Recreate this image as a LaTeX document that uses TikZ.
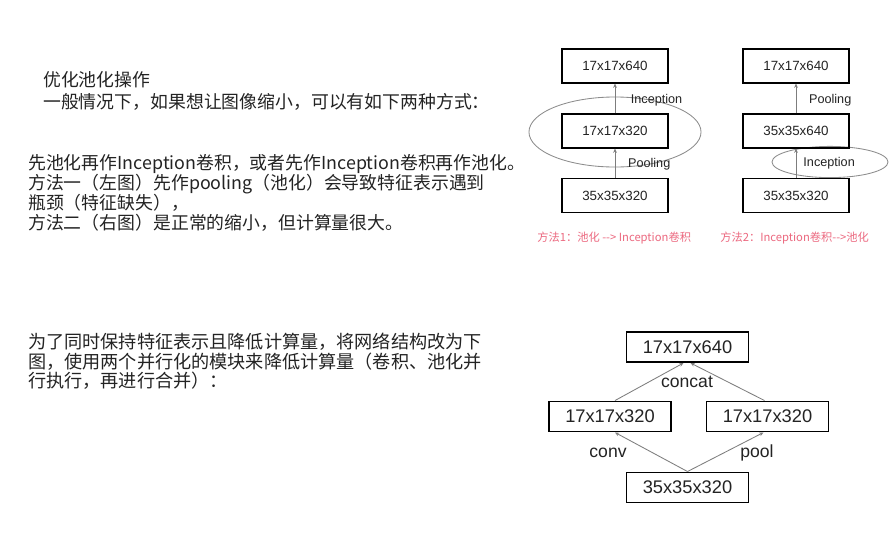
\documentclass[tikz,border=0pt]{standalone}
\usepackage{fontspec}
\setmainfont{Liberation Sans}
\newfontfamily\cjk{Noto Sans CJK SC}
\usetikzlibrary{arrows.meta,calc}

\definecolor{linegray}{RGB}{125,125,125}
\definecolor{ringgray}{RGB}{140,140,140}
\definecolor{notepink}{RGB}{236,105,128}
\definecolor{textgray}{RGB}{35,35,35}

\tikzset{
  smallbox/.style={draw=black, line width=1.1pt, minimum width=2.64cm, minimum height=0.84cm,
    font=\fontsize{9.5}{11}\selectfont, text=textgray},
  bigbox/.style={draw=black, line width=1.1pt, minimum width=3.06cm, minimum height=0.76cm,
    font=\fontsize{13}{15}\selectfont, text=textgray},
  flow/.style={draw=linegray, line width=0.6pt, -{Stealth[length=3pt,width=2.6pt]}},
  ring/.style={draw=ringgray, line width=0.6pt},
  steplabel/.style={inner sep=0pt, anchor=west, font=\fontsize{9}{11}\selectfont, text=textgray},
  edgelabel/.style={inner sep=0pt, font=\fontsize{12.5}{14}\selectfont, text=textgray},
  note/.style={inner sep=0pt, anchor=west, align=left, text=textgray},
  caption/.style={inner sep=0pt, anchor=west, text=notepink, font=\cjk\fontsize{8}{10}\selectfont},
}

\begin{document}
\begin{tikzpicture}[x=0.025cm, y=-0.025cm]
    \useasboundingbox (0,0) rectangle (896,535);
    \fill[white] (0,0) rectangle (896,535);

    % Text on the left
    \node[note, font=\cjk\fontsize{12.7}{15.6}\selectfont] (intro) at (43,91)
      {优化池化操作\\一般情况下，如果想让图像缩小，可以有如下两种方式：};
    \node[note, font=\cjk\fontsize{12.7}{14.2}\selectfont] (ways) at (28,193)
      {先池化再作Inception卷积，或者先作Inception卷积再作池化。\\
       方法一（左图）先作pooling（池化）会导致特征表示遇到\\
       瓶颈（特征缺失），\\
       方法二（右图）是正常的缩小，但计算量很大。};
    \node[note, font=\cjk\fontsize{12.9}{14}\selectfont] (parallel) at (28,361.5)
      {为了同时保持特征表示且降低计算量，将网络结构改为下\\
       图，使用两个并行化的模块来降低计算量（卷积、池化并\\
       行执行，再进行合并）：};

    % Method 1: pooling first
    \draw[ring] (615,132) ellipse [x radius=2.15cm, y radius=0.875cm];
    \node[smallbox] (lout) at (615,66) {17x17x640};
    \node[smallbox] (lmid) at (615,131) {17x17x320};
    \node[smallbox] (lin)  at (615,195.5) {35x35x320};
    \draw[flow] (lin) -- (lmid) node[steplabel, midway, xshift=9pt, yshift=-1pt] {Pooling};
    \draw[flow] (lmid) -- (lout) node[steplabel, midway, xshift=11pt, yshift=-1pt] {Inception};
    \node[caption] (lcap) at (537,238) {方法1：池化 -{}-> Inception卷积};

    % Method 2: inception first
    \draw[ring] (830,162) ellipse [x radius=1.45cm, y radius=0.39cm];
    \node[smallbox] (rout) at (796,66) {17x17x640};
    \node[smallbox] (rmid) at (796,131) {35x35x640};
    \node[smallbox] (rin)  at (796,195.5) {35x35x320};
    \draw[flow] (rin) -- (rmid) node[steplabel, midway, xshift=5pt] {Inception};
    \draw[flow] (rmid) -- (rout) node[steplabel, midway, xshift=9pt, yshift=-1pt] {Pooling};
    \node[caption] (rcap) at (720,238) {方法2：Inception卷积-{}->池化};

    % Parallel conv and pool
    \node[bigbox] (cat)     at (687.5,347) {17x17x640};
    \node[bigbox] (conv320) at (610,416.5) {17x17x320};
    \node[bigbox] (pool320) at (767.5,416.5) {17x17x320};
    \node[bigbox] (in320)   at (687.5,487.5) {35x35x320};

    \draw[flow] (in320.north) -- ($(conv320.south)+(5,0)$);
    \draw[flow] (in320.north) -- ($(pool320.south)+(-4,0)$);
    \draw[flow] ($(conv320.north)+(5,0)$) -- ($(cat.south)+(-4,0)$);
    \draw[flow] ($(pool320.north)+(-3,0)$) -- ($(cat.south)+(3,0)$);

    \node[edgelabel] (concat) at (687,382) {concat};
    \node[edgelabel] (conv)   at (608,453) {conv};
    \node[edgelabel] (pool)   at (757,453) {pool};
\end{tikzpicture}
\end{document}
